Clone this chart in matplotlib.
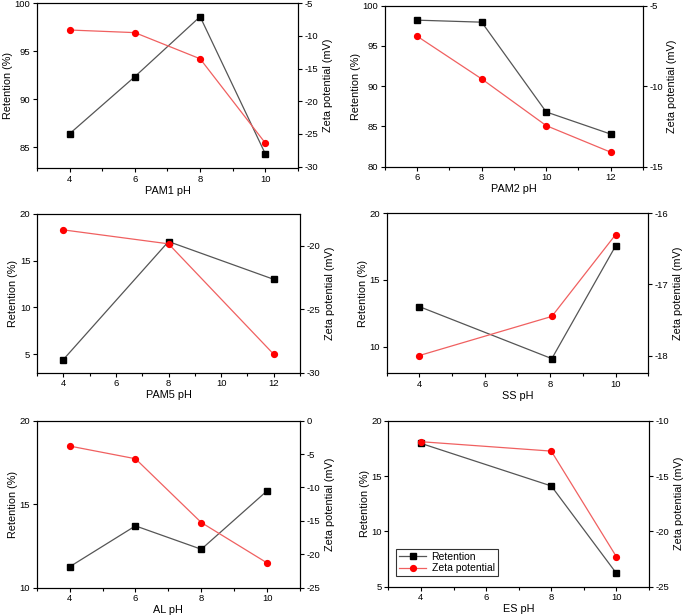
import matplotlib
matplotlib.use("Agg")
import matplotlib.pyplot as plt
from matplotlib.ticker import MultipleLocator

plt.rcParams["font.family"] = ["Liberation Sans", "DejaVu Sans"]
plt.rcParams["axes.unicode_minus"] = False

# PAM1
pam1_ph = [4, 6, 8, 10]
pam1_ret = [86.4, 92.35, 98.6, 84.3]
pam1_zeta = [-9.1, -9.5, -13.5, -26.4]

# PAM2
pam2_ph = [6, 8, 10, 12]
pam2_ret = [98.2, 97.95, 86.8, 84.05]
pam2_zeta = [-6.9, -9.55, -12.45, -14.1]

# PAM5
pam5_ph = [4, 8, 12]
pam5_ret = [4.4, 17.05, 13.0]
pam5_zeta = [-18.75, -19.85, -28.55]

# SS
ss_ph = [4, 8.05, 10]
ss_ret = [13.0, 9.1, 17.55]
ss_zeta = [-18.0, -17.45, -16.3]

# AL
al_ph = [4, 6, 8, 10]
al_ret = [11.25, 13.7, 12.3, 15.8]
al_zeta = [-3.8, -5.7, -15.25, -21.3]

# ES
es_ph = [4, 8, 10]
es_ret = [17.95, 14.1, 6.2]
es_zeta = [-11.9, -12.75, -22.3]

panels = [
    ("PAM1 pH", pam1_ph, pam1_ret, pam1_zeta, (3, 11), (82.8, 100), 5, (-30.25, -5), 5,
     [0.054, 0.7268, 0.381, 0.268]),
    ("PAM2 pH", pam2_ph, pam2_ret, pam2_zeta, (5, 13), (80, 100), 5, (-15, -5), 5,
     [0.562, 0.7294, 0.3766, 0.2614]),
    ("PAM5 pH", pam5_ph, pam5_ret, pam5_zeta, (3, 13), (3, 20), 5, (-30, -17.5), 5,
     [0.054, 0.395, 0.384, 0.2576]),
    ("SS pH", ss_ph, ss_ret, ss_zeta, (3, 11), (8, 20), 5, (-18.25, -16), 1,
     [0.5645, 0.394, 0.3819, 0.2597]),
    ("AL pH", al_ph, al_ret, al_zeta, (3, 11), (10, 20), 5, (-25, 0), 5,
     [0.0536, 0.046, 0.3844, 0.2711]),
    ("ES pH", es_ph, es_ret, es_zeta, (3, 11), (5, 20), 5, (-25, -10), 5,
     [0.5669, 0.0476, 0.3806, 0.2695]),
]

fig = plt.figure(figsize=(6.85, 6.16), dpi=100)

for i, (xlab, ph, ret, zeta, xl, yl, ystep, zl, zstep, pos) in enumerate(panels):
    ax = fig.add_axes(pos)
    ax2 = ax.twinx()
    l1, = ax.plot(ph, ret, color="#555555", lw=0.9, marker="s", ms=4,
                  mfc="black", mec="black", label="Retention")
    l2, = ax2.plot(ph, zeta, color="#f06060", lw=0.9, marker="o", ms=4.2,
                   mfc="red", mec="red", label="Zeta potential")
    ax.set_xlim(*xl)
    ax.set_ylim(*yl)
    ax2.set_ylim(*zl)
    ax.xaxis.set_major_locator(MultipleLocator(2))
    ax.xaxis.set_minor_locator(MultipleLocator(1))
    ax.yaxis.set_major_locator(MultipleLocator(ystep))
    ax2.yaxis.set_major_locator(MultipleLocator(zstep))
    ax.set_xlabel(xlab, fontsize=7.8, labelpad=1.5)
    ax.set_ylabel("Retention (%)", fontsize=7.8, labelpad=1)
    ax2.set_ylabel("Zeta potential (mV)", fontsize=7.8, rotation=90, labelpad=3)
    ax.tick_params(axis="both", which="major", labelsize=6.8, length=3, width=0.8,
                   direction="out", pad=1.8)
    ax.tick_params(axis="x", which="minor", length=1.8, width=0.8)
    ax2.tick_params(axis="y", labelsize=6.8, length=3, width=0.8, direction="out", pad=1.8)
    for a in (ax, ax2):
        for s in a.spines.values():
            s.set_linewidth(0.8)
    if i == 5:
        leg = ax.legend(handles=[l1, l2], loc="lower left", bbox_to_anchor=(0.01, 0.03),
                        fontsize=7.5, frameon=True, fancybox=False, edgecolor="black",
                        handlelength=2.6, borderpad=0.3, labelspacing=0.15,
                        handletextpad=0.5)
        leg.get_frame().set_linewidth(0.8)

fig.savefig("out.png", dpi=100)
